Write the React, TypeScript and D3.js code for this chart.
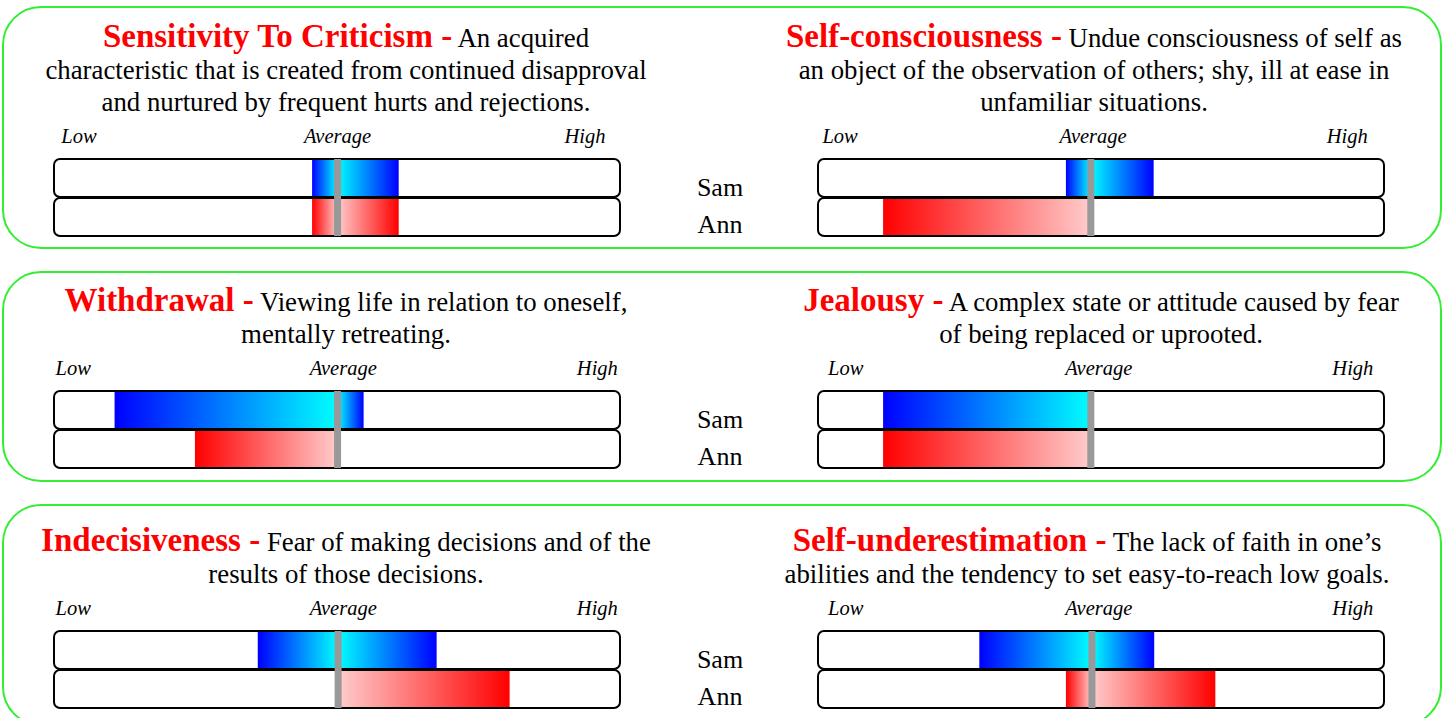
import React from 'react'
import * as d3 from 'd3'

// Traits, in reading order (left/right per row)
const traits = [
  'Sensitivity To Criticism',
  'Self-consciousness',
  'Withdrawal',
  'Jealousy',
  'Indecisiveness',
  'Self-underestimation',
]

const descriptions = [
  ['An acquired', 'characteristic that is created from continued disapproval', 'and nurtured by frequent hurts and rejections.'],
  ['Undue consciousness of self as', 'an object of the observation of others; shy, ill at ease in', 'unfamiliar situations.'],
  ['Viewing life in relation to oneself,', 'mentally retreating.'],
  ['A complex state or attitude caused by fear', 'of being replaced or uprooted.'],
  ['Fear of making decisions and of the', 'results of those decisions.'],
  ['The lack of faith in one\u2019s', 'abilities and the tendency to set easy-to-reach low goals.'],
]

const people = ['Sam', 'Ann']
const scaleLabels = ['Low', 'Average', 'High']

// scores on a 0-100 scale, each person spans a range
const samLow = [45.6, 43.8, 10.7, 11.5, 36.0, 28.5]
const samHigh = [60.9, 59.3, 54.7, 48.2, 67.6, 59.4]
const annLow = [45.6, 11.5, 24.9, 11.5, 50.3, 43.8]
const annHigh = [60.9, 48.2, 50.1, 48.2, 80.5, 70.2]
const averages = [50.1, 48.2, 50.1, 48.2, 50.2, 48.4]

// layout
const W = 1445
const H = 718
const panelY = [7, 272, 505]
const panelH = [241, 209, 220]
const trackY = [159, 391, 631]
const trackH = 38
const textCx = [346, 1094, 346, 1101, 346, 1087]
const labelPos = [
  [4.4, 50.1, 93.8], [3.9, 48.6, 93.5],
  [3.4, 51.1, 96.0], [4.9, 49.6, 94.5],
  [3.4, 51.1, 96.0], [4.9, 49.6, 94.5],
]

const xLeft = d3.scaleLinear().domain([0, 100]).range([54, 620])
const xRight = d3.scaleLinear().domain([0, 100]).range([818, 1384])

const serif = '"Liberation Serif", "Times New Roman", serif'

function segments(lo: number, hi: number, avg: number) {
  const out: { a: number; b: number; side: 'L' | 'R' }[] = []
  if (lo < avg) out.push({ a: lo, b: Math.min(hi, avg), side: 'L' })
  if (hi > avg) out.push({ a: Math.max(lo, avg), b: hi, side: 'R' })
  return out
}

const Trait = ({ i }: { i: number }) => {
  const row = Math.floor(i / 2)
  const x = i % 2 === 0 ? xLeft : xRight
  const ty = trackY[row]
  const lines = descriptions[i]
  const avg = averages[i]
  const lastBase = ty - 48.5
  const spacing = 32
  const ranges = [
    [samLow[i], samHigh[i]],
    [annLow[i], annHigh[i]],
  ]
  return (
    <g>
      {lines.map((ln, k) => {
        const y = lastBase - (lines.length - 1 - k) * spacing
        return (
          <text key={k} x={textCx[i]} y={y} textAnchor="middle" fontFamily={serif} fontSize={26.8} fill="#000" style={{ whiteSpace: 'pre' }}>
            {k === 0 && (
              <tspan fill="#ff0000" fontWeight="bold" fontSize={33}>{traits[i] + ' -'}</tspan>
            )}
            {k === 0 ? ' ' + ln : ln}
          </text>
        )
      })}
      {scaleLabels.map((s, k) => (
        <text key={s} x={x(labelPos[i][k])} y={ty - 16.5} textAnchor="middle" fontFamily={serif} fontStyle="italic" fontSize={20.5}>
          {s}
        </text>
      ))}
      {people.map((p, j) => {
        const y = ty + j * (trackH + 1)
        return (
          <g key={p}>
            <rect x={x(0)} y={y} width={x(100) - x(0)} height={trackH} rx={6} fill="#fff" stroke="#000" strokeWidth={2} />
            {segments(ranges[j][0], ranges[j][1], avg).map((s, k) => (
              <rect
                key={k}
                x={x(s.a)}
                y={y + 1}
                width={x(s.b) - x(s.a)}
                height={trackH - 2}
                fill={`url(#${j === 0 ? 'blue' : 'red'}${s.side})`}
              />
            ))}
          </g>
        )
      })}
      <rect x={x(avg) - 3.5} y={ty} width={7} height={trackH * 2 + 1} fill="#999999" />
    </g>
  )
}

export default function App() {
  return (
    <svg width={W} height={H} style={{ position: 'absolute', left: 0, top: 0, background: '#fff' }}>
      <defs>
        <linearGradient id="blueL" x1="0" x2="1" y1="0" y2="0">
          <stop offset="0%" stopColor="#0000ff" />
          <stop offset="100%" stopColor="#00ffff" />
        </linearGradient>
        <linearGradient id="blueR" x1="0" x2="1" y1="0" y2="0">
          <stop offset="0%" stopColor="#00ffff" />
          <stop offset="100%" stopColor="#0000ff" />
        </linearGradient>
        <linearGradient id="redL" x1="0" x2="1" y1="0" y2="0">
          <stop offset="0%" stopColor="#ff0000" />
          <stop offset="100%" stopColor="#ffcccc" />
        </linearGradient>
        <linearGradient id="redR" x1="0" x2="1" y1="0" y2="0">
          <stop offset="0%" stopColor="#ffcccc" />
          <stop offset="100%" stopColor="#ff0000" />
        </linearGradient>
      </defs>
      {panelY.map((py, r) => (
        <g key={r}>
          <rect x={3} y={py} width={1438} height={panelH[r]} rx={38} fill="#fff" stroke="#33ee33" strokeWidth={2} />
          {people.map((p, j) => (
            <text key={p} x={720} y={trackY[r] + 37 + j * 37} textAnchor="middle" fontFamily={serif} fontSize={26}>
              {p}
            </text>
          ))}
        </g>
      ))}
      {traits.map((_, i) => (
        <Trait key={i} i={i} />
      ))}
    </svg>
  )
}
